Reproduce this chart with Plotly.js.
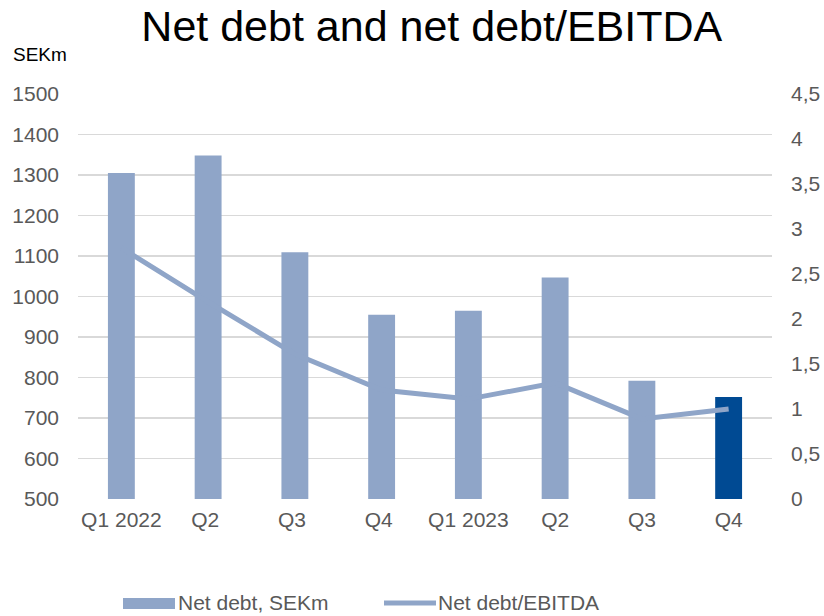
<!DOCTYPE html>
<html><head><meta charset="utf-8">
<script src="https://cdn.plot.ly/plotly-3.0.1.min.js"></script>
<style>body{margin:0;background:#fff}#chart{width:824px;height:616px}</style>
</head><body><div id="chart"></div>
<script>
var categories = ["Q1 2022","Q2 ","Q3 ","Q4 ","Q1 2023","Q2","Q3","Q4"];
var netDebt = [1305, 1348, 1109, 955, 965, 1047, 792, 752];
var netDebtEbitda = [2.79, 2.19, 1.61, 1.21, 1.11, 1.29, 0.89, 1.0];
var barColors = ["#8FA5C8","#8FA5C8","#8FA5C8","#8FA5C8","#8FA5C8","#8FA5C8","#8FA5C8","#004A93"];
var seriesNames = ["Net debt, SEKm", "Net debt/EBITDA"];

var FONT = "Liberation Sans, Arial, sans-serif";
var tickFont = {family:FONT, size:21, color:"#595959"};
var data = [
 {type:"bar", x:categories, y:netDebt, name:seriesNames[0], marker:{color:barColors}, yaxis:"y", showlegend:false},
 {type:"scatter", mode:"lines", x:categories, y:netDebtEbitda, name:seriesNames[1], yaxis:"y2", showlegend:false,
  line:{color:"#8FA5C8", width:5}}
];
var layout = {
 width:824, height:616, separators:",.",
 margin:{l:78, r:52, t:94, b:117, autoexpand:false},
 paper_bgcolor:"#fff", plot_bgcolor:"#fff",
 title:{text:"Net debt and net debt/EBITDA", font:{family:FONT, size:43, color:"#000"}, x:0.524, xanchor:"center", xref:"container", yref:"container", y:0.958, yanchor:"middle"},
 bargap:0.69,
 showlegend:false,
 xaxis:{tickfont:tickFont, showgrid:false, showline:false, ticks:"", ticklabelstandoff:6, fixedrange:true},
 yaxis:{range:[500,1500], dtick:100, tick0:500, tickfont:tickFont, gridcolor:"#D9D9D9", gridwidth:1.5, zeroline:false, showline:false, ticks:"", ticklabelstandoff:18},
 yaxis2:{range:[0,4.5], dtick:0.5, tick0:0, overlaying:"y", side:"right", tickfont:tickFont, showgrid:false, zeroline:false, showline:false, ticks:"", ticklabelstandoff:18},
 shapes:[
  {type:"rect", xref:"paper", yref:"paper", x0:(123-78)/694, x1:(175-78)/694, y0:(499-609)/405, y1:(499-598)/405, fillcolor:"#8FA5C8", line:{width:0}},
  {type:"line", xref:"paper", yref:"paper", x0:(384-78)/694, x1:(436-78)/694, y0:(499-603)/405, y1:(499-603)/405, line:{color:"#8FA5C8", width:5}}
 ],
 annotations:[
  {text:"SEKm", xref:"paper", yref:"paper", x:(11-78)/694, y:(499-55)/405, xanchor:"left", yanchor:"middle", showarrow:false, font:{family:FONT, size:19, color:"#000"}},
  {text:seriesNames[0], xref:"paper", yref:"paper", x:(176-78)/694, y:(499-602)/405, xanchor:"left", yanchor:"middle", showarrow:false, font:{family:FONT, size:21, color:"#595959"}},
  {text:seriesNames[1], xref:"paper", yref:"paper", x:(436-78)/694, y:(499-602)/405, xanchor:"left", yanchor:"middle", showarrow:false, font:{family:FONT, size:21, color:"#595959"}}
 ]
};
Plotly.newPlot("chart", data, layout, {displayModeBar:false, staticPlot:true});
</script></body></html>
